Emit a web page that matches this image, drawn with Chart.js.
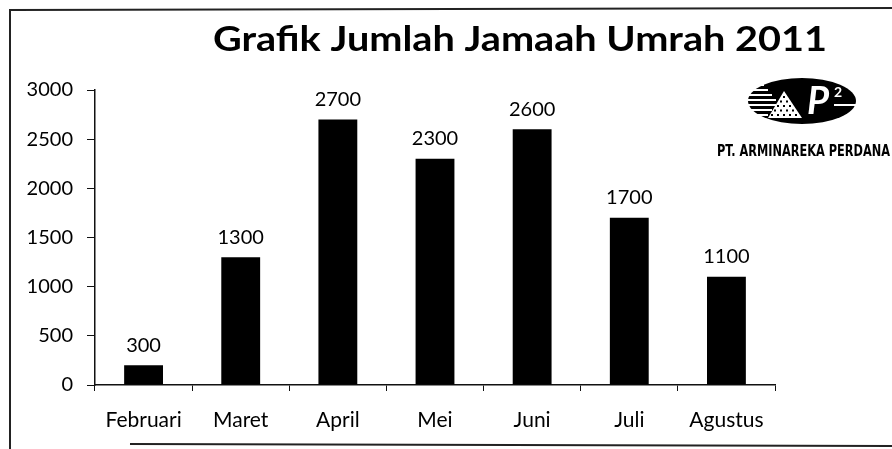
<!DOCTYPE html>
<html>
<head>
<meta charset="utf-8">
<script src="https://cdn.jsdelivr.net/npm/chart.js@4"></script>
<style>
  html, body { margin: 0; padding: 0; background: #fff; }
  #wrap { width: 892px; height: 449px; position: relative; }
</style>
</head>
<body>
<div id="wrap"><canvas id="chart" width="892" height="449"></canvas></div>
<script>
const months = ["Februari", "Maret", "April", "Mei", "Juni", "Juli", "Agustus"];
// bar heights as drawn in the picture
const jamaah = [200, 1300, 2700, 2300, 2600, 1700, 1100];
// numbers printed above the bars
const jamaahLabels = ["300", "1300", "2700", "2300", "2600", "1700", "1100"];
const yMax = 3000;
const yStep = 500;

const chartTitle = "Grafik Jumlah Jamaah Umrah 2011";
const companyName = "PT. ARMINAREKA PERDANA";

const fontFamily = "Lato, 'Open Sans', sans-serif";

// frame, title and logo
const decorPlugin = {
  id: "decor",
  beforeDraw(chart) {
    const ctx = chart.ctx;
    ctx.save();
    ctx.fillStyle = "#fff";
    ctx.fillRect(0, 0, chart.width, chart.height);
    ctx.strokeStyle = "#222";
    ctx.lineWidth = 2;
    ctx.beginPath();
    ctx.moveTo(10, 449);
    ctx.lineTo(10, 10);
    ctx.lineTo(892, 8);
    ctx.moveTo(130, 444);
    ctx.lineTo(892, 446);
    ctx.stroke();
    ctx.restore();
  },
  afterDraw(chart) {
    const ctx = chart.ctx;
    ctx.save();

    // title, fitted to its width in the reference
    ctx.fillStyle = "#000";
    ctx.font = "bold 35px " + fontFamily;
    ctx.textAlign = "center";
    ctx.textBaseline = "middle";
    const tw = ctx.measureText(chartTitle).width;
    ctx.translate(520, 40);
    ctx.scale(614 / tw, 1);
    ctx.fillText(chartTitle, 0, 0);
    ctx.restore();

    // logo: black oval with stripes, dotted triangle and "P"
    ctx.save();
    const cx = 800, cy = 101;
    ctx.fillStyle = "#000";
    ctx.beginPath();
    ctx.ellipse(cx + 2, cy, 54, 23, 0, 0, Math.PI * 2);
    ctx.fill();
    ctx.fillStyle = "#fff";
    for (let i = 0; i < 8; i++) {
      ctx.fillRect(cx - 56, cy - 17 + i * 5, 34 - Math.abs(i - 3.5) * 4, 2);
    }
    ctx.beginPath();
    ctx.moveTo(cx - 32, cy + 17);
    ctx.lineTo(cx - 16, cy - 10);
    ctx.lineTo(cx + 2, cy + 17);
    ctx.closePath();
    ctx.fill();
    ctx.fillStyle = "#000";
    for (let r = 0; r < 5; r++) {
      for (let c = 0; c <= r; c++) {
        ctx.fillRect(cx - 17 - r * 3 + c * 6, cy - 5 + r * 4.5, 2, 2);
      }
    }
    ctx.fillStyle = "#fff";
    ctx.font = "bold italic 38px " + fontFamily;
    ctx.textAlign = "center";
    ctx.textBaseline = "middle";
    ctx.fillText("P", cx + 18, cy + 1);
    ctx.font = "bold 14px " + fontFamily;
    ctx.fillText("2", cx + 38, cy - 9);
    ctx.fillRect(cx + 34, cy + 3, 24, 2);

    ctx.fillStyle = "#000";
    ctx.font = "bold 16px 'Liberation Sans Narrow', 'DejaVu Sans Condensed', sans-serif";
    ctx.textAlign = "left";
    const nw = ctx.measureText(companyName).width;
    ctx.translate(717, 152);
    ctx.scale(173 / nw, 1);
    ctx.fillText(companyName, 0, 0);
    ctx.restore();
  },
};

// numbers above the bars
const valueLabelPlugin = {
  id: "valueLabels",
  afterDatasetsDraw(chart) {
    const ctx = chart.ctx;
    const meta = chart.getDatasetMeta(0);
    ctx.save();
    ctx.fillStyle = "#000";
    ctx.font = "20px " + fontFamily;
    ctx.textAlign = "center";
    ctx.textBaseline = "middle";
    meta.data.forEach((bar, i) => {
      ctx.fillText(jamaahLabels[i], bar.x, bar.y - 20);
    });
    ctx.restore();
  },
};

new Chart(document.getElementById("chart"), {
  type: "bar",
  data: {
    labels: months,
    datasets: [
      {
        data: jamaah,
        backgroundColor: "#000",
        borderWidth: 0,
        barPercentage: 0.4,
        categoryPercentage: 1,
      },
    ],
  },
  options: {
    responsive: false,
    animation: false,
    devicePixelRatio: 1,
    layout: { padding: { left: 0, right: 117, top: 90, bottom: 0 } },
    plugins: {
      legend: { display: false },
      tooltip: { enabled: false },
    },
    scales: {
      x: {
        afterFit: (scale) => { scale.height = 64; },
        grid: {
          offset: true,
          drawOnChartArea: false,
          drawTicks: true,
          tickLength: 6,
          color: "#111",
        },
        border: { display: true, color: "#111", width: 1.5 },
        ticks: {
          color: "#000",
          padding: 17,
          font: { family: fontFamily, size: 21 },
        },
      },
      y: {
        min: 0,
        max: yMax,
        afterFit: (scale) => { scale.width = 95; },
        grid: {
          drawOnChartArea: false,
          drawTicks: true,
          tickLength: 8,
          color: "#111",
        },
        border: { display: true, color: "#111", width: 1.5 },
        ticks: {
          stepSize: yStep,
          color: "#000",
          padding: 14,
          font: { family: fontFamily, size: 20 },
          callback: (v) => String(v),
        },
      },
    },
  },
  plugins: [decorPlugin, valueLabelPlugin],
});
</script>
</body>
</html>
